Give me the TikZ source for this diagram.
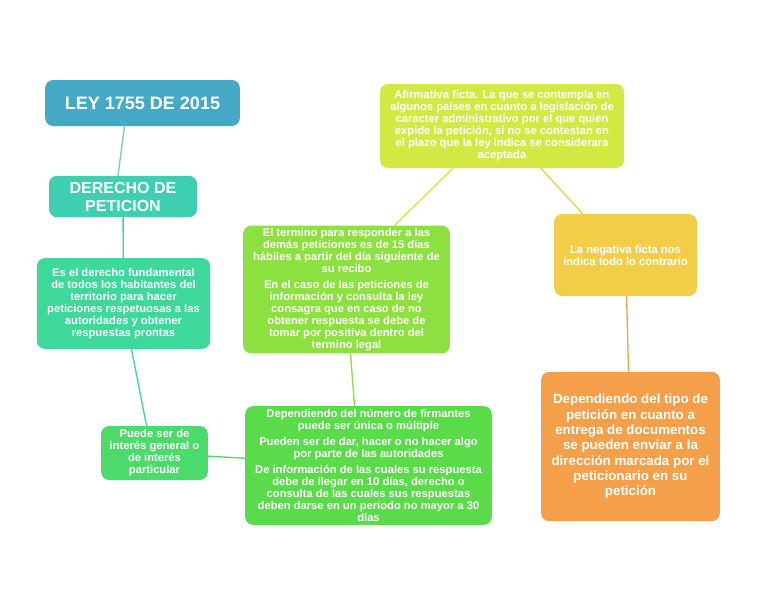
\documentclass[tikz,border=0pt]{standalone}
\usepackage{fontspec}
\setmainfont{Liberation Sans}
\usetikzlibrary{calc}
\begin{document}
\begin{tikzpicture}[x=0.75pt,y=-0.75pt,
 bx/.style={rounded corners=6pt,draw=none,text=white,font=\bfseries\fontsize{8.4}{9}\selectfont,align=center,inner sep=2pt},
 ln/.style={line width=1pt}]
\definecolor{c1}{HTML}{45A9C6}\definecolor{c2}{HTML}{3ECFB0}\definecolor{c3}{HTML}{3DD89A}
\definecolor{c4}{HTML}{4CDB6A}\definecolor{c5}{HTML}{5ADB4A}\definecolor{c6}{HTML}{8CE03F}
\definecolor{c7}{HTML}{D4E843}\definecolor{c8}{HTML}{F2CE48}\definecolor{c9}{HTML}{F4A04A}
\useasboundingbox (0,0) rectangle (768,594);
\fill[white] (0,0) rectangle (768,594);
\node[bx,fill=c1,minimum width=146pt,minimum height=34.5pt,font=\bfseries\fontsize{13.5}{15}\selectfont] (a) at (142.5,103) {LEY 1755 DE 2015};
\node[bx,fill=c2,minimum width=111pt,minimum height=31pt,font=\bfseries\fontsize{12}{13.5}\selectfont] (b) at (123,196.5) {DERECHO DE\\PETICION};
\node[bx,fill=c3,minimum width=130pt,minimum height=68pt] (c) at (123.5,303.5) {Es el derecho fundamental\\de todos los habitantes del\\territorio para hacer\\peticiones respetuosas a las\\autoridades y obtener\\respuestas prontas};
\node[bx,fill=c4,minimum width=80pt,minimum height=40.5pt] (d) at (154.5,453) {Puede ser de\\interés general o\\de interés\\particular};
\node[bx,fill=c5,minimum width=185pt,minimum height=89pt] (e) at (368.5,465.5) {Dependiendo del número de firmantes\\puede ser única o múltiple\\[3pt]Pueden ser de dar, hacer o no hacer algo\\por parte de las autoridades\\[3pt]De información de las cuales su respuesta\\debe de llegar en 10 días, derecho o\\consulta de las cuales sus respuestas\\deben darse en un periodo no mayor a 30\\días};
\node[bx,fill=c6,minimum width=155pt,minimum height=95pt] (f) at (346.5,289.5) {El termino para responder a las\\demás peticiones es de 15 días\\hábiles a partir del día siguiente de\\su recibo\\[3pt]En el caso de las peticiones de\\información y consulta la ley\\consagra que en caso de no\\obtener respuesta se debe de\\tomar por positiva dentro del\\termino legal};
\node[bx,fill=c7,minimum width=183pt,minimum height=63pt] (g) at (502,126) {Afirmativa ficta. La que se contempla en\\algunos países en cuanto a legislación de\\caracter administrativo por el que quien\\expide la petición, si no se contestan en\\el plazo que la ley indica se considerara\\aceptada};
\node[bx,fill=c8,minimum width=107pt,minimum height=61.5pt] (h) at (625.5,255) {La negativa ficta nos\\indica todo lo contrario};
\node[bx,fill=c9,minimum width=134pt,minimum height=112pt,font=\bfseries\fontsize{10}{11.5}\selectfont] (i) at (630.5,446.5) {Dependiendo del tipo de\\petición en cuanto a\\entrega de documentos\\se pueden enviar a la\\dirección marcada por el\\peticionario en su\\petición};
\draw[ln,c1!70] ($(a.south)+(-18,0)$) -- ($(b.north)+(-5,0)$);
\draw[ln,c2] (b) -- (c);
\draw[ln,c3] ($(c.south)+(8,0)$) -- ($(d.north)+(-8,0)$);
\draw[ln,c4] (d) -- (e);
\draw[ln,c6] ($(e.north)+(-14,0)$) -- ($(f.south)+(4,0)$);
\draw[ln,c7] ($(f.north)+(48,0)$) -- ($(g.south)+(-49,0)$);
\draw[ln,c8] ($(g.south)+(39,0)$) -- ($(h.north)+(-43,0)$);
\draw[ln,c9] (h) -- (i);
\end{tikzpicture}
\end{document}
